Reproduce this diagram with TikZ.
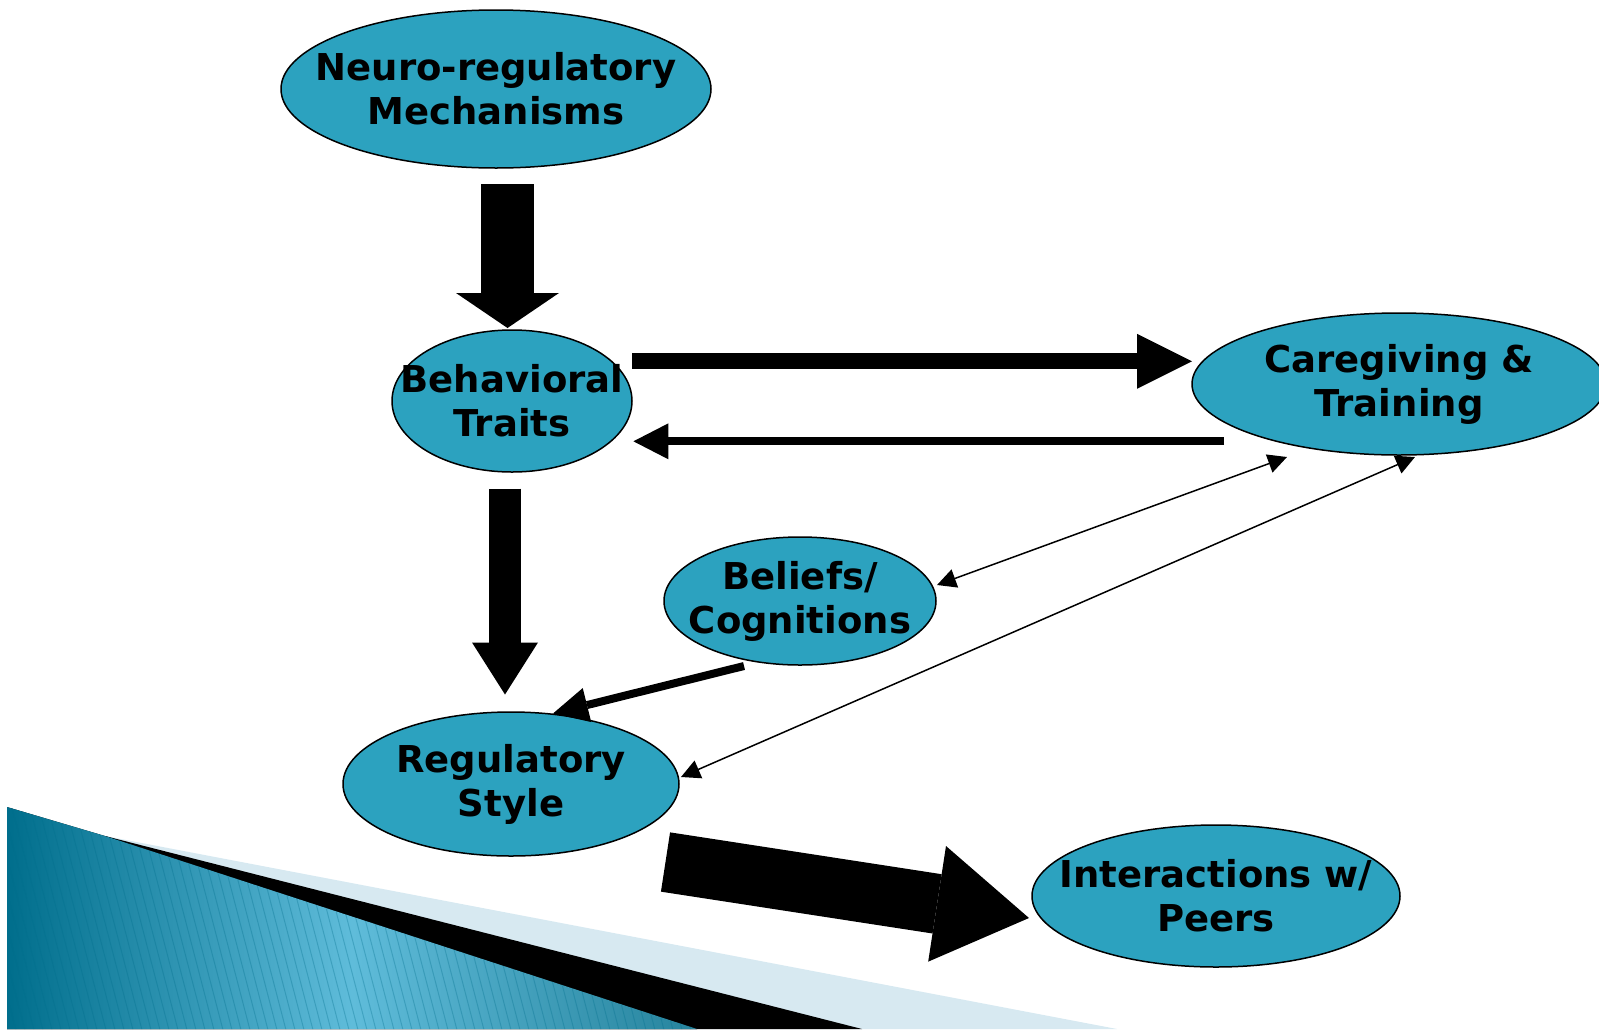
\documentclass[tikz,border=0pt]{standalone}
\usepackage{fontspec}
\setmainfont{DejaVu Sans}
\usetikzlibrary{arrows.meta,shapes.geometric}
\definecolor{nodefill}{RGB}{44,162,191}
\definecolor{wedgeblue}{RGB}{215,233,241}
\definecolor{tealdark}{RGB}{0,110,140}
\definecolor{teallight}{RGB}{95,188,218}
\begin{document}
\begin{tikzpicture}[x=1pt,y=-1pt,
  concept/.style={ellipse, draw=black, line width=1.5pt, fill=nodefill, inner sep=0pt},
  ctext/.style={align=center, inner sep=0pt, font=\fontsize{37}{44}\selectfont\bfseries},
  thinlink/.style={line width=1.5pt, >={Triangle[length=19pt,width=19pt]}, <->},
]
\useasboundingbox (0,0) rectangle (1599,1029);
% background decoration
\fill[wedgeblue] (105,836) -- (1117,1029) -- (7,1029) -- cycle;
\fill[black] (105,836) -- (862,1029) -- (7,1029) -- cycle;
\fill[left color=tealdark, right color=tealdark!85!white, middle color=teallight]
  (7,807) -- (105,836) -- (697,1029) -- (7,1029) -- cycle;
\begin{scope}
  \clip (7,807) -- (105,836) -- (697,1029) -- (7,1029) -- cycle;
  \foreach \i in {-80,-71,...,720} \draw[tealdark, opacity=0.3, line width=1pt] (\i,800) -- ++(60,230);
\end{scope}
% nodes
\node[concept, minimum width=430pt, minimum height=158pt,
  label={[ctext]center:Neuro-regulatory\\Mechanisms}] (neuro) at (496,89) {};
\node[concept, minimum width=240pt, minimum height=142pt,
  label={[ctext]center:Behavioral\\Traits}] (behav) at (512,401) {};
\node[concept, minimum width=414pt, minimum height=142pt,
  label={[ctext]center:Caregiving \&\\Training}] (care) at (1399,384) {};
\node[concept, minimum width=272pt, minimum height=128pt,
  label={[ctext]center:Beliefs/\\Cognitions}] (belief) at (800,601) {};
\node[concept, minimum width=336pt, minimum height=144pt,
  label={[ctext]center:Regulatory\\Style}] (reg) at (511,784) {};
\node[concept, minimum width=368pt, minimum height=142pt,
  label={[ctext]center:Interactions w/\\Peers}] (peer) at (1216,896) {};
% connector end points
\coordinate (nb1) at (507.5,184);   \coordinate (nb2) at (507.5,328);
\coordinate (bc1) at (632,361.3);   \coordinate (bc2) at (1192,361.3);
\coordinate (cb1) at (1224,441.3);  \coordinate (cb2) at (633.4,441.3);
\coordinate (br1) at (505,488.5);   \coordinate (br2) at (505,694.5);
\coordinate (gr1) at (744,666);     \coordinate (gr2) at (553,713.5);
\coordinate (rp1) at (665.5,862);   \coordinate (rp2) at (1029,918);
\coordinate (gc1) at (937,585);     \coordinate (gc2) at (1287,457);
\coordinate (rc1) at (681,777);     \coordinate (rc2) at (1415,457);
% block arrows
\draw[line width=53pt, -{Triangle[length=35pt,width=103pt,line width=0pt]}] (nb1) -- (nb2);
\draw[line width=15.7pt, -{Triangle[length=55pt,width=55pt,line width=0pt]}] (bc1) -- (bc2);
\draw[line width=8pt, -{Triangle[length=35pt,width=36pt,line width=0pt]}] (cb1) -- (cb2);
\draw[line width=32.5pt, -{Triangle[length=52pt,width=66pt,line width=0pt]}] (br1) -- (br2);
\draw[line width=8pt, -{Triangle[length=35pt,width=35pt,line width=0pt]}] (gr1) -- (gr2);
\draw[line width=60pt, -{Triangle[length=93pt,width=117pt,line width=0pt]}] (rp1) -- (rp2);
% thin two-headed arrows
\draw[thinlink] (gc1) -- (gc2);
\draw[thinlink] (rc1) -- (rc2);
\end{tikzpicture}
\end{document}
